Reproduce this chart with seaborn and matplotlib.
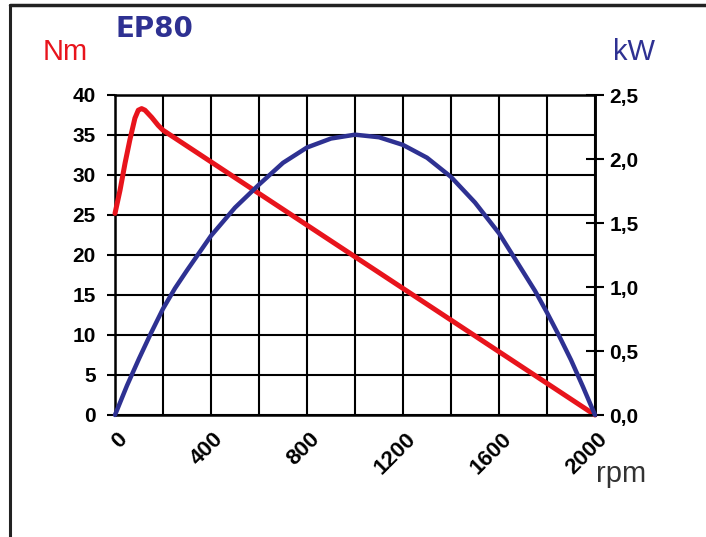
import matplotlib
matplotlib.use("Agg")
import matplotlib.pyplot as plt
import matplotlib.transforms as mtransforms
from matplotlib.lines import Line2D
from matplotlib.ticker import FuncFormatter, MultipleLocator
import seaborn as sns
import pandas as pd

# ---- data ----
torque_rpm = [0, 21, 42, 62, 83, 97, 111, 125, 153, 180, 200, 2000]
torque_nm = [25.2, 28.1, 31.5, 34.4, 37.1, 38.1, 38.3, 38.1, 37.2, 36.2, 35.6, 0.0]

power_rpm = [0, 50, 100, 150, 200, 250, 300, 400, 500, 600, 700, 800, 900, 1000,
             1100, 1200, 1300, 1400, 1500, 1600, 1700, 1750, 1800, 1850, 1900, 1950, 2000]
power_kw = [0.0, 0.23, 0.44, 0.64, 0.83, 0.99, 1.13, 1.40, 1.62, 1.80, 1.97, 2.09, 2.16, 2.19,
            2.17, 2.11, 2.01, 1.86, 1.66, 1.42, 1.12, 0.97, 0.80, 0.62, 0.43, 0.22, 0.0]

x_tick_values = [0, 400, 800, 1200, 1600, 2000]
y_left_ticks = [0, 5, 10, 15, 20, 25, 30, 35, 40]
y_right_ticks = [0.0, 0.5, 1.0, 1.5, 2.0, 2.5]

title_text = "EP80"
left_unit = "Nm"
right_unit = "kW"
x_unit = "rpm"

RED = "#e8141c"
BLUE = "#2e3192"

sns.set_style("white")
plt.rcParams["font.family"] = ["Liberation Sans", "DejaVu Sans"]
plt.rcParams["lines.solid_joinstyle"] = "round"
plt.rcParams["lines.solid_capstyle"] = "round"

fig = plt.figure(figsize=(7.06, 5.37), dpi=100)
ax = fig.add_axes([115 / 706, 1 - 415 / 537, 480 / 706, 320 / 537])
ax.set_facecolor("white")

df_t = pd.DataFrame({"rpm": torque_rpm, "Nm": torque_nm})
df_p = pd.DataFrame({"rpm": power_rpm, "kW": power_kw})

sns.lineplot(data=df_t, x="rpm", y="Nm", ax=ax, color=RED, lw=3.6,
             sort=True, clip_on=False, zorder=5)
ax.set_xlim(0, 2000)
ax.set_ylim(0, 40)
ax.xaxis.set_major_locator(MultipleLocator(200))
ax.yaxis.set_major_locator(MultipleLocator(5))
ax.grid(True, color="black", lw=1.5, zorder=0)
ax.set_axisbelow(True)
ax.set_xlabel("")
ax.set_ylabel("")

ax.xaxis.set_major_formatter(
    FuncFormatter(lambda v, p: f"{int(round(v))}" if int(round(v)) in x_tick_values else ""))
ax.set_yticks(y_left_ticks)
ax.tick_params(axis="y", which="major", direction="out", length=6, width=1.5,
               labelsize=15, pad=8, colors="black")
ax.tick_params(axis="x", which="major", direction="out", length=6, width=1.5,
               labelsize=16, pad=4, colors="black")
for lab in ax.get_yticklabels():
    lab.set_fontweight("bold")
offset = mtransforms.ScaledTranslation(2 / 100, 0, fig.dpi_scale_trans)
for lab in ax.get_xticklabels():
    lab.set_fontweight("bold")
    lab.set_rotation(45)
    lab.set_horizontalalignment("right")
    lab.set_verticalalignment("top")
    lab.set_rotation_mode("anchor")
    lab.set_transform(lab.get_transform() + offset)

for side in ["left", "bottom", "top", "right"]:
    ax.spines[side].set_visible(True)
    ax.spines[side].set_color("black")
    ax.spines[side].set_linewidth(1.8)

ax2 = ax.twinx()
sns.lineplot(data=df_p, x="rpm", y="kW", ax=ax2, color=BLUE, lw=3.2,
             sort=True, clip_on=False, zorder=6)
ax2.set_ylim(0, 2.5)
ax2.set_xlim(0, 2000)
ax2.set_yticks(y_right_ticks)
ax2.yaxis.set_major_formatter(FuncFormatter(lambda v, p: f"{v:.1f}".replace(".", ",")))
ax2.tick_params(axis="y", direction="inout", length=13, width=1.5,
                labelsize=15, pad=4, colors="black")
for lab in ax2.get_yticklabels():
    lab.set_fontweight("bold")
ax2.set_ylabel("")
ax2.set_xlabel("")
ax2.grid(False)
for side in ["left", "bottom", "top", "right"]:
    ax2.spines[side].set_visible(side == "right")
ax2.spines["right"].set_color("black")
ax2.spines["right"].set_linewidth(1.8)

# texts
fig.text(154 / 706, 1 - 29 / 537, title_text, color=BLUE, fontsize=20,
         fontweight="bold", family=["DejaVu Sans"], ha="center", va="center")
fig.text(65 / 706, 1 - 52 / 537, left_unit, color=RED, fontsize=21,
         ha="center", va="center")
fig.text(634 / 706, 1 - 52 / 537, right_unit, color=BLUE, fontsize=21,
         ha="center", va="center")
fig.text(621 / 706, 1 - 474 / 537, x_unit, color="#333333", fontsize=21,
         ha="center", va="center")

# outer frame (left and top)
fig.add_artist(Line2D([10 / 706, 10 / 706], [0, 1 - 5 / 537], color="#222222",
                      lw=2.2, transform=fig.transFigure))
fig.add_artist(Line2D([10 / 706, 1.0], [1 - 5 / 537, 1 - 5 / 537], color="#222222",
                      lw=2.5, transform=fig.transFigure))

fig.savefig("out.png", dpi=100, facecolor="white")
